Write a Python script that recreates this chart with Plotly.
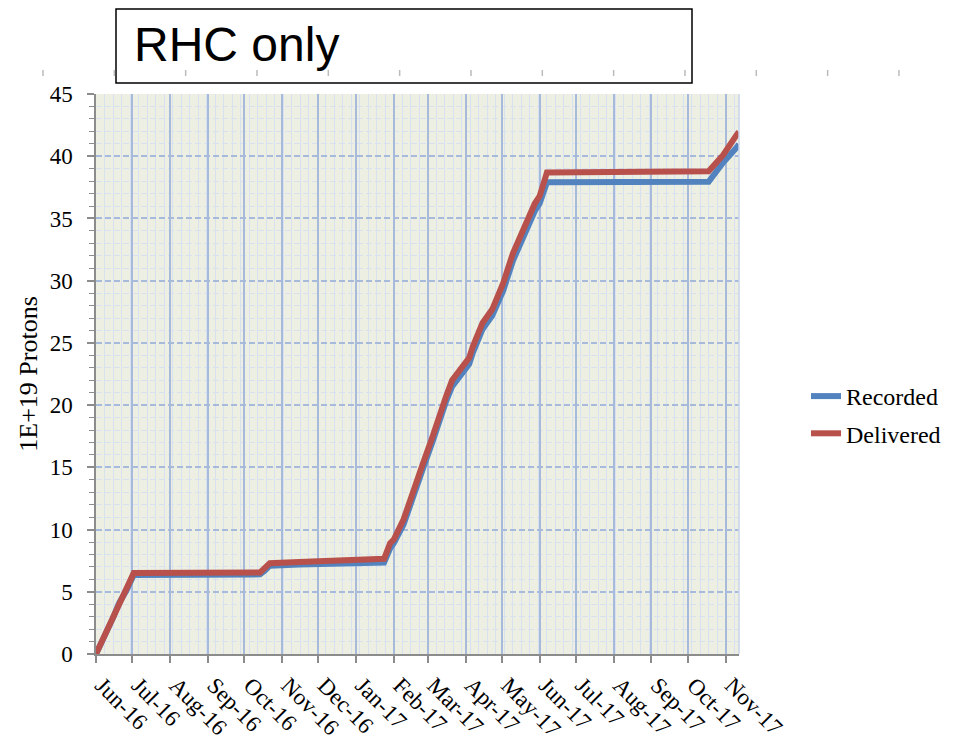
import plotly.graph_objects as go

# ---------------- data ----------------
dates = [
    "2016-06-01", "2016-06-08", "2016-06-15", "2016-06-20", "2016-06-23", "2016-06-26",
    "2016-07-02", "2016-10-14", "2016-10-18", "2016-10-22", "2016-11-15", "2016-12-20",
    "2017-01-24", "2017-01-29", "2017-02-01", "2017-02-09", "2017-02-17", "2017-02-25",
    "2017-03-05", "2017-03-09", "2017-03-16", "2017-03-21", "2017-03-30", "2017-04-04",
    "2017-04-07", "2017-04-15", "2017-04-23", "2017-05-02", "2017-05-10", "2017-05-18",
    "2017-05-28", "2017-06-01", "2017-06-07", "2017-10-18", "2017-10-30", "2017-11-10",
    "2017-11-12",
]
delivered = [
    0.0, 1.5, 3.0, 4.2, 4.6, 5.2,
    6.5, 6.55, 6.9, 7.3, 7.4, 7.5,
    7.65, 8.9, 9.2, 10.8, 13.2, 15.3,
    17.5, 18.8, 20.7, 22.0, 23.1, 23.8,
    24.7, 26.6, 27.7, 29.8, 32.2, 34.1,
    36.2, 36.8, 38.7, 38.8, 40.1, 41.7,
    41.95,
]
recorded = [
    0.0, 1.4, 2.9, 4.1, 4.5, 5.1,
    6.35, 6.4, 6.7, 7.1, 7.2, 7.28,
    7.35, 8.5, 8.9, 10.4, 12.8, 14.9,
    17.1, 18.4, 20.3, 21.5, 22.6, 23.3,
    24.2, 26.1, 27.2, 29.2, 31.6, 33.5,
    35.6, 36.2, 37.9, 37.95, 39.5, 40.7,
    40.95,
]
series_names = ["Recorded", "Delivered"]
series_colors = ["#5383BE", "#B8514C"]
title_text = "RHC only"
y_title = "1E+19 Protons"

# ---------------- layout helpers ----------------
OFF = 8  # page body margin
W, H = 956 - 2 * OFF, 749 - 2 * OFF
L, R, T, B = 96 - OFF, 739 - OFF, 94 - OFF, 654 - OFF


def px_x(x):
    return (x - OFF - L) / (R - L)


def px_y(y):
    return (B - (y - OFF)) / (B - T)


serif = "Liberation Serif, Times New Roman, serif"

fig = go.Figure()
for name, vals, col in zip(series_names, [recorded, delivered], series_colors):
    fig.add_trace(go.Scatter(
        x=dates, y=vals, mode="lines", name=name,
        line=dict(color=col, width=6), legendgroup=name,
    ))

fig.update_layout(
    width=W, height=H,
    margin=dict(l=L, r=W - R, t=T, b=H - B, autoexpand=False),
    paper_bgcolor="white",
    plot_bgcolor="#ECEFE1",
    showlegend=True,
    legend=dict(
        x=px_x(806), y=px_y(415), xanchor="left", yanchor="middle",
        font=dict(family=serif, size=24, color="black"),
        traceorder="grouped", tracegroupgap=3,
        bgcolor="rgba(0,0,0,0)",
    ),
    xaxis=dict(
        type="date",
        range=["2016-06-01", "2017-11-12"],
        dtick="M1", tick0="2016-06-01",
        tickformat="%b-%y", tickangle=45,
        tickfont=dict(family=serif, size=23, color="black"),
        ticks="outside", ticklen=7, tickcolor="#8C8C8C", tickwidth=1.5,
        ticklabelstandoff=0, ticklabelshift=6,
        showline=True, linecolor="#8C8C8C", linewidth=1.5,
        showgrid=True, gridcolor="#A7BADB", gridwidth=1.5,
        minor=dict(dtick=7 * 86400000, tick0="2016-06-01", showgrid=True,
                   gridcolor="#D8E1F0", gridwidth=1, ticks=""),
        zeroline=False,
    ),
    yaxis=dict(
        range=[0, 45], dtick=5, tick0=0,
        tickfont=dict(family=serif, size=23, color="black"),
        ticks="outside", ticklen=7, tickcolor="#8C8C8C", tickwidth=1.5,
        ticklabelstandoff=10,
        showline=True, linecolor="#8C8C8C", linewidth=1.5,
        showgrid=True, gridcolor="#A7BADB", gridwidth=1.5, griddash="6px,3px",
        minor=dict(dtick=1, showgrid=True, gridcolor="#D8E1F0", gridwidth=1,
                   ticks="outside", ticklen=5, tickcolor="#8C8C8C", tickwidth=1),
        title=dict(text=y_title, font=dict(family=serif, size=26, color="black"),
                   standoff=5),
        zeroline=False,
    ),
)

shapes = []
# right edge of plot frame
shapes.append(dict(type="line", xref="paper", yref="paper", x0=1, x1=1, y0=0, y1=1,
                   line=dict(color="#C8D4EA", width=1.5), layer="above"))
# title box
shapes.append(dict(type="rect", xref="paper", yref="paper",
                   x0=px_x(116), x1=px_x(692), y0=px_y(83), y1=px_y(9),
                   fillcolor="white", line=dict(color="black", width=1.5)))
# small ruler ticks across the top
for k in range(13):
    xx = 43 + 71.33 * k
    shapes.append(dict(type="line", xref="paper", yref="paper",
                       x0=px_x(xx), x1=px_x(xx), y0=px_y(70), y1=px_y(76),
                       line=dict(color="#BBBBBB", width=1.5)))
fig.update_layout(shapes=shapes)

fig.add_annotation(
    text=title_text, xref="paper", yref="paper",
    x=px_x(132), y=px_y(44), xanchor="left", yanchor="middle",
    showarrow=False, font=dict(family="Liberation Sans, Arial, sans-serif", size=48, color="black"),
)

fig.write_html("out.html")
